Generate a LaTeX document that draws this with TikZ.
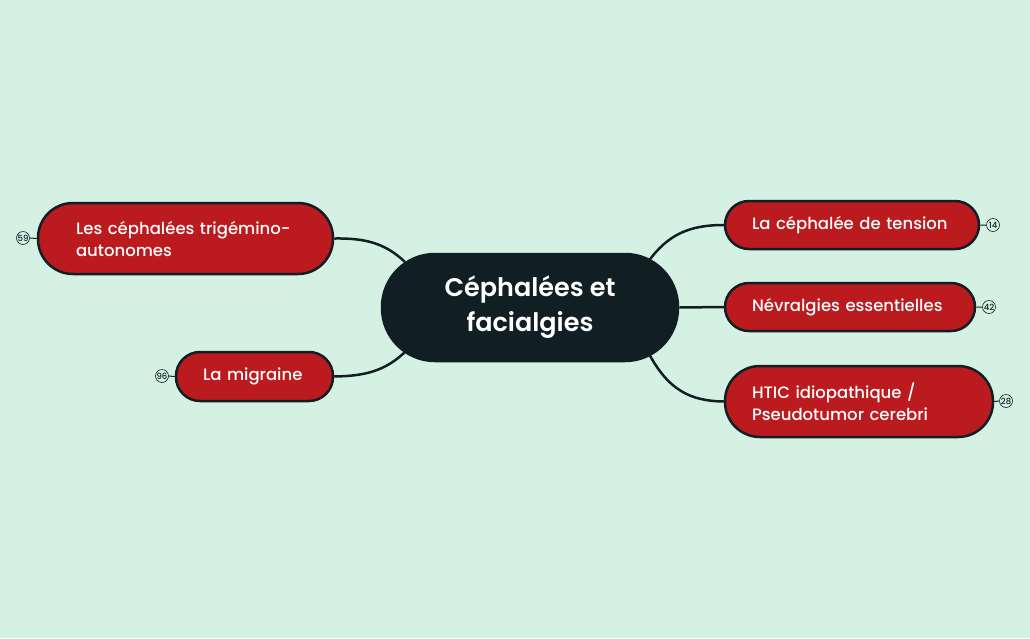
\documentclass[tikz,border=0pt]{standalone}
\usepackage{fontspec}
\setmainfont{Poppins}[UprightFont={* Medium},BoldFont={* SemiBold}]
\definecolor{bg}{HTML}{D5F1E3}
\definecolor{dk}{HTML}{111F24}
\definecolor{rd}{HTML}{BB1A1E}
\begin{document}
\begin{tikzpicture}[x=1pt,y=-1pt,
  topic/.style={draw=dk,line width=2.5pt,fill=rd,text=white,font=\fontsize{16.5}{22}\selectfont,inner sep=0pt,align=left},
  badge/.style={circle,draw=dk,line width=0.6pt,fill=bg,inner sep=0pt,minimum size=13pt,font=\fontsize{8.5}{8.5}\selectfont,text=dk},
  link/.style={draw=dk,line width=2.5pt}]
\fill[bg] (0,0) rectangle (1030,638);
\useasboundingbox (0,0) rectangle (1030,638);
\node[draw=dk,line width=2.5pt,fill=dk,rounded corners=53pt,minimum width=296pt,minimum height=107pt,text=white,font=\bfseries\fontsize{25.5}{35}\selectfont,align=center] (c) at (530,307.5) {Céphalées et\\facialgies};
\node[topic,rounded corners=35pt,minimum width=295pt,minimum height=71pt,text width=219pt] (l1) at (185.5,238.5) {Les céphalées trigémino-\\autonomes};
\node[topic,rounded corners=24pt,minimum width=157pt,minimum height=49pt,text width=103pt] (l2) at (254.5,376.5) {La migraine};
\node[topic,rounded corners=24pt,minimum width=254pt,minimum height=48pt,text width=200pt] (r1) at (852,225) {La céphalée de tension};
\node[topic,rounded corners=24pt,minimum width=250pt,minimum height=48pt,text width=196pt] (r2) at (850,307) {Névralgies essentielles};
\node[topic,rounded corners=35pt,minimum width=268pt,minimum height=71pt,text width=214pt] (r3) at (859,401.5) {HTIC idiopathique /\\Pseudotumor cerebri};
\node[badge] (b1) at (23,238) {59};
\node[badge] (b2) at (162,376) {96};
\node[badge] (b3) at (993,225) {14};
\node[badge] (b4) at (989,307) {42};
\node[badge] (b5) at (1006,401) {28};
\draw[dk,line width=1pt] (b1.east)--(l1.west) (b2.east)--(l2.west) (b3.west)--(r1.east) (b4.west)--(r2.east) (b5.west)--(r3.east);
\coordinate (c1) at (405,262); \coordinate (c2) at (405,352);
\coordinate (c3) at (648,262); \coordinate (c4) at (648,352);
\draw[link] (c1) .. controls (385,243) and (365,238) .. (l1.east);
\draw[link] (c2) .. controls (385,371) and (365,376) .. (l2.east);
\draw[link] (c3) .. controls (668,234) and (690,225) .. (r1.west);
\draw[link] (c.east) -- (r2.west);
\draw[link] (c4) .. controls (668,390) and (690,401) .. (r3.west);
\end{tikzpicture}
\end{document}
